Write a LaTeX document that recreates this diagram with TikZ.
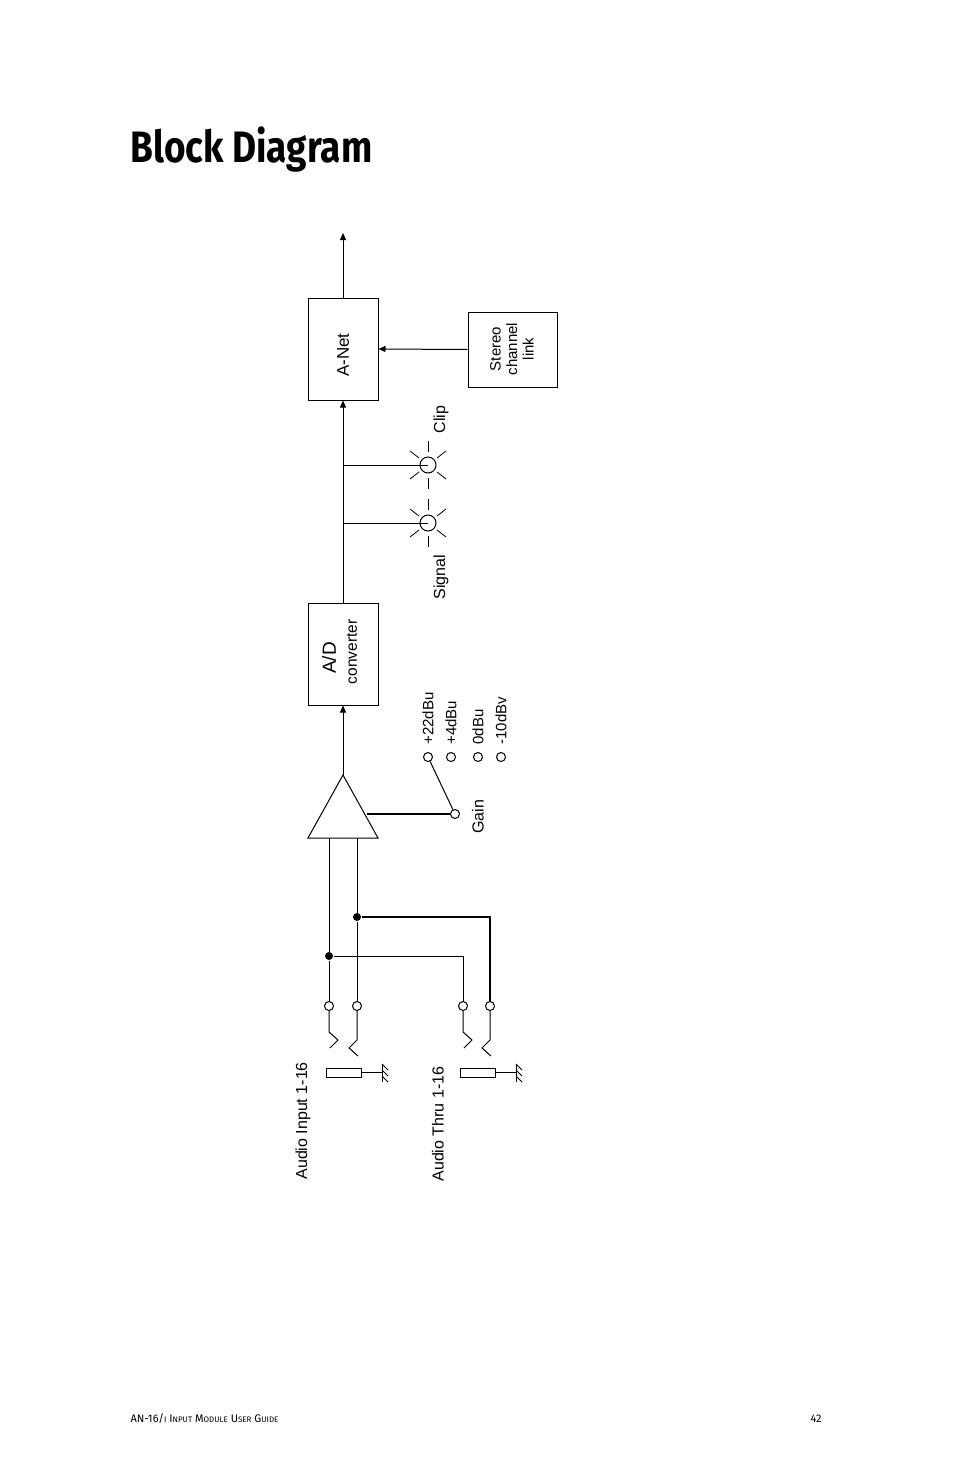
\documentclass[tikz,border=0pt]{standalone}
\usepackage{fontspec}
\setmainfont{Liberation Sans}
\newfontfamily\titlefont{Fira Sans}
\usetikzlibrary{arrows.meta}
\begin{document}
\begin{tikzpicture}[x=1pt,y=-1pt,line width=1pt,
  arr/.style={-{Triangle[length=7pt,width=6pt]}},
  box/.style={draw,minimum width=70pt,minimum height=102pt,inner sep=0pt},
  lbl/.style={rotate=90,font=\fontsize{16}{18}\selectfont,inner sep=0pt},
  sml/.style={rotate=90,font=\fontsize{15}{17}\selectfont,inner sep=0pt},
  term/.style={draw,fill=white,circle,minimum size=9pt,inner sep=0pt},
  dot/.style={fill,circle,minimum size=8pt,inner sep=0pt}]
\useasboundingbox (0,0) rectangle (954,1475);
\fill[white] (0,0) rectangle (954,1475);
\node[anchor=base west,inner sep=0pt,font=\titlefont\bfseries\fontsize{44}{48}\selectfont,xscale=0.84] (title) at (130,162) {Block Diagram};
% boxes
\node[box] (anet) at (343,349) {};
\node[lbl,font=\fontsize{17}{19}\selectfont] at (343,355) {A-Net};
\node[draw,minimum width=89pt,minimum height=75pt,inner sep=0pt] (stereo) at (512.5,349.5) {};
\node[rotate=90,font=\fontsize{15}{16.5}\selectfont,align=center,inner sep=0pt] at (512,349) {Stereo\\channel\\link};
\node[box] (ad) at (343,654) {};
\node[rotate=90,inner sep=0pt,font=\fontsize{19}{20}\selectfont] at (329,658) {A/D};
\node[rotate=90,inner sep=0pt,font=\fontsize{15.5}{16}\selectfont] at (352,652) {converter};
\coordinate (out) at (343,233);
\draw[arr] (anet.north) -- (out);
\draw[arr] (stereo.west) -- (anet.east);
\draw[arr] (ad.north) -- (anet.south);
% LEDs
\foreach \y/\n in {465/clip,523/sig}{
  \coordinate (b\n) at (343,\y);
  \node[draw,circle,minimum size=16pt,inner sep=0pt] (led\n) at (428,\y) {};
  \draw (b\n) -- (led\n.center);
  \draw[line width=0.8pt] (428,\y-24) -- (428,\y-13) (428,\y+13) -- (428,\y+24);
  \draw[line width=0.8pt] (410,\y-14) -- (419,\y-7) (446,\y-14) -- (437,\y-7)
     (410,\y+14) -- (419,\y+7) (446,\y+14) -- (437,\y+7);
}
\node[lbl,anchor=west] at (441,434) {Clip};
\node[lbl,anchor=west] at (441,600) {Signal};
% amplifier
\coordinate (apex) at (343,775);
\draw (apex) -- (378,838) -- (308,838) -- cycle;
\draw[arr] (apex) -- (ad.south);
\node[term] (gain) at (455,814) {};
\draw[line width=1.4pt] (367,814) -- (gain);
\foreach \x/\t/\n in {428/+22dBu/a,451/+4dBu/b,478/0dBu/c,501/-10dBv/d}{
  \node[term] (g\n) at (\x,757) {};
  \node[sml,anchor=west] at (\x,745) {\t};
}
\draw (gain) -- (ga);
\node[lbl,anchor=west] at (478,834) {Gain};
% inputs
\node[term] (i1) at (329,1006) {};
\node[term] (i2) at (357,1006) {};
\node[term] (t1) at (463,1006) {};
\node[term] (t2) at (490,1006) {};
\node[dot] (j1) at (329,956) {};
\node[dot] (j2) at (357,917) {};
\draw (i1) -- (j1) -- (329,838);
\draw (i2) -- (j2) -- (357,838);
\draw (j1) -- (463,956) -- (t1);
\draw[line width=1.6pt] (j2) -- (490,917) -- (t2);
% jacks
\draw (i1) -- (329,1032) -- (338,1040) -- (330,1048);
\draw (i2) -- (357,1040) -- (349,1048) -- (358,1056);
\draw (t1) -- (463,1032) -- (472,1040) -- (464,1048);
\draw (t2) -- (490,1040) -- (482,1048) -- (491,1056);
\foreach \x/\g in {326/382,460/516}{
  \draw (\x,1068) rectangle (\x+35,1077);
  \draw (\x+35,1072.5) -- (\g,1072.5);
  \draw (\g,1064) -- (\g,1082);
  \foreach \d in {0,6,12}{\draw (\g,1064+\d) -- (\g+6,1070+\d);}
}
\node[lbl,anchor=west] at (303,1180) {Audio Input 1-16};
\node[lbl,anchor=west] at (438,1182) {Audio Thru 1-16};
% footer
\node[anchor=base west,inner sep=0pt,font=\titlefont\fontsize{11}{12}\selectfont] at (130,1422) {AN-16/{\fontsize{8}{9}\selectfont I} I{\fontsize{8}{9}\selectfont NPUT} M{\fontsize{8}{9}\selectfont ODULE} U{\fontsize{8}{9}\selectfont SER} G{\fontsize{8}{9}\selectfont UIDE}};
\node[anchor=base west,inner sep=0pt,font=\titlefont\fontsize{11}{12}\selectfont] at (810,1422) {42};
\end{tikzpicture}
\end{document}
